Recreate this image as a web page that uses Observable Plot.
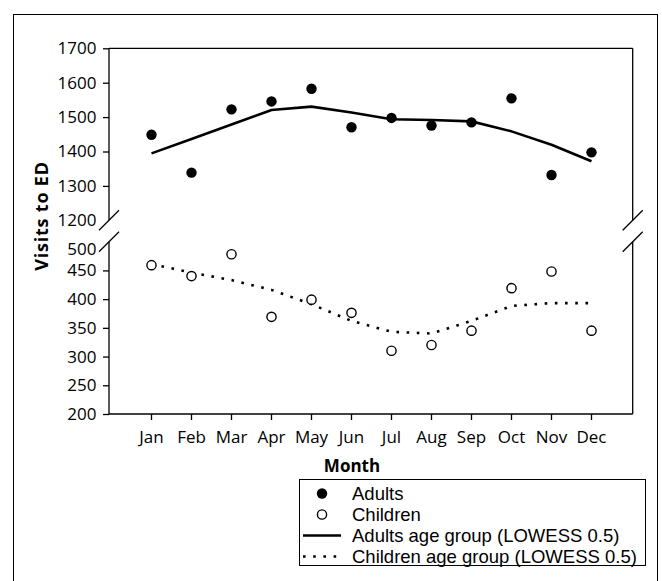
<!DOCTYPE html>
<html><head><meta charset="utf-8">
<script src="https://cdn.jsdelivr.net/npm/d3@7"></script>
<script src="https://cdn.jsdelivr.net/npm/@observablehq/plot@0.6"></script>
<style>
body{margin:0;background:#fff;}
#wrap{position:relative;width:662px;height:581px;overflow:hidden;background:#fff;font-family:"Open Sans",sans-serif;color:#000;}
#outer{position:absolute;left:13px;top:14px;width:645px;height:620px;border:1.3px solid #000;box-sizing:border-box;}
.layer{position:absolute;left:0;top:0;}
#ylab{position:absolute;left:41px;top:216px;transform:translate(-50%,-50%) rotate(-90deg);font-weight:bold;font-size:18px;letter-spacing:0.8px;white-space:nowrap;}
#xlab{position:absolute;left:352px;top:465px;transform:translate(-50%,-50%);font-weight:bold;font-size:17px;white-space:nowrap;}
#legend{position:absolute;left:299px;top:479px;width:347px;height:87px;border:1.3px solid #000;box-sizing:border-box;font-family:"Liberation Sans",Arial,sans-serif;font-size:18.5px;}
.row{position:absolute;left:0;height:21px;width:100%;}
.row svg{position:absolute;left:0;top:0;}
.row span{position:absolute;left:52px;top:50%;transform:translateY(-50%);white-space:nowrap;line-height:1;}
</style></head>
<body>
<div id="wrap">
  <div id="outer"></div>
  <div id="ylab">Visits to ED</div>
  <div id="xlab">Month</div>
  <div id="legend"></div>
</div>
<script>
const months = ["Jan","Feb","Mar","Apr","May","Jun","Jul","Aug","Sep","Oct","Nov","Dec"];
const adults = [1450, 1340, 1524, 1547, 1584, 1472, 1499, 1477, 1486, 1556, 1333, 1399];
const children = [460, 441, 479, 370, 400, 377, 311, 321, 346, 420, 449, 346];
const adultsLowess = [1396, 1438, 1480, 1522, 1532, 1515, 1495, 1493, 1489, 1460, 1421, 1373];
const childrenLowess = [462, 447, 434, 417, 392, 363, 344, 341, 363, 389, 394, 394];
const upperTicks = [1200, 1300, 1400, 1500, 1600, 1700];
const lowerTicks = [200, 250, 300, 350, 400, 450, 500];
const legendLabels = ["Adults", "Children", "Adults age group (LOWESS 0.5)", "Children age group (LOWESS 0.5)"];

const W = 662, H = 581;
const plotLeft = 109, plotRight = 632.7;
const upperTop = 48.3, upperBottom = 220.3;
const lowerTop = 241.7, lowerBottom = 414;
const fmt = d => String(d);

const adultRows = months.map((m, i) => ({month: m, value: adults[i], fit: adultsLowess[i]}));
const childRows = months.map((m, i) => ({month: m, value: children[i], fit: childrenLowess[i]}));

// panel frame lines + axis-break slashes, derived from the plot's dimensions and y scale
function decor(sides, breakValue) {
  return (index, scales, values, dims) => {
    const l = dims.marginLeft, r = dims.width - dims.marginRight;
    const t = dims.marginTop, b = dims.height - dims.marginBottom;
    const g = d3.create("svg:g").attr("stroke", "#000").attr("fill", "none").attr("stroke-width", 1.3);
    if (sides.includes("top")) g.append("line").attr("x1", l).attr("x2", r).attr("y1", t).attr("y2", t);
    if (sides.includes("bottom")) g.append("line").attr("x1", l).attr("x2", r).attr("y1", b).attr("y2", b);
    if (sides.includes("left")) g.append("line").attr("x1", l).attr("x2", l).attr("y1", t).attr("y2", b);
    if (sides.includes("right")) g.append("line").attr("x1", r).attr("x2", r).attr("y1", t).attr("y2", b);
    const yb = scales.y(breakValue);
    for (const cx of [l, r]) {
      g.append("line").attr("x1", cx - 10).attr("y1", yb + 10).attr("x2", cx + 10).attr("y2", yb - 10);
    }
    return g.node();
  };
}

const common = {
  width: W, height: H,
  marginLeft: plotLeft, marginRight: W - plotRight,
  style: {background: "transparent", fontFamily: "'Open Sans', sans-serif", fontSize: "17px", color: "#000", overflow: "visible"}
};

const upper = Plot.plot({
  ...common,
  marginTop: upperTop, marginBottom: H - upperBottom,
  x: {type: "point", domain: months, padding: 1, axis: null},
  y: {domain: [1200, 1700]},
  marks: [
    decor(["top", "left", "right"], 1200),
    Plot.axisY(upperTicks.filter(d => d !== 1200), {tickSize: 6, tickPadding: 7, tickFormat: fmt, label: null, stroke: "#000", strokeWidth: 1.3}),
    Plot.axisY([1200], {tickSize: 0, tickPadding: 13, tickFormat: fmt, label: null}),
    Plot.line(adultRows, {x: "month", y: "fit", stroke: "#000", strokeWidth: 2.6, strokeLinecap: "butt"}),
    Plot.dot(adultRows, {x: "month", y: "value", r: 5.2, fill: "#000", stroke: "none"})
  ]
});

const lower = Plot.plot({
  ...common,
  marginTop: lowerTop, marginBottom: H - lowerBottom,
  x: {type: "point", domain: months, padding: 1},
  y: {domain: [200, 500]},
  marks: [
    decor(["bottom", "left", "right"], 500),
    Plot.axisY(lowerTicks.filter(d => d !== 500), {tickSize: 6, tickPadding: 7, tickFormat: fmt, label: null, stroke: "#000", strokeWidth: 1.3}),
    Plot.axisY([500], {tickSize: 0, tickPadding: 13, dy: 7, tickFormat: fmt, label: null}),
    Plot.axisX({tickSize: 6, tickPadding: 10, label: null, stroke: "#000", strokeWidth: 1.3}),
    Plot.line(childRows, {x: "month", y: "fit", stroke: "#000", strokeWidth: 2.6, strokeDasharray: "2.6 7.6", strokeLinecap: "butt"}),
    Plot.dot(childRows, {x: "month", y: "value", r: 4.6, fill: "#fff", stroke: "#000", strokeWidth: 1.4})
  ]
});

upper.classList.add("layer");
lower.classList.add("layer");
const wrap = document.getElementById("wrap");
wrap.appendChild(upper);
wrap.appendChild(lower);

// legend
const legend = document.getElementById("legend");
const rowCenters = [13.5, 34.5, 55.5, 76.5];
legendLabels.forEach((label, i) => {
  const row = document.createElement("div");
  row.className = "row";
  row.style.top = (rowCenters[i] - 10.5) + "px";
  const svg = d3.create("svg").attr("width", 44).attr("height", 21);
  if (i === 0) svg.append("circle").attr("cx", 22).attr("cy", 10.5).attr("r", 5.2).attr("fill", "#000");
  if (i === 1) svg.append("circle").attr("cx", 22).attr("cy", 10.5).attr("r", 4.6).attr("fill", "#fff").attr("stroke", "#000").attr("stroke-width", 1.4);
  if (i === 2) svg.append("line").attr("x1", 3).attr("x2", 41).attr("y1", 10.5).attr("y2", 10.5).attr("stroke", "#000").attr("stroke-width", 2.6);
  if (i === 3) svg.append("line").attr("x1", 3).attr("x2", 41).attr("y1", 10.5).attr("y2", 10.5).attr("stroke", "#000").attr("stroke-width", 2.6).attr("stroke-dasharray", "2.6 7.6");
  row.appendChild(svg.node());
  const span = document.createElement("span");
  span.textContent = label;
  row.appendChild(span);
  legend.appendChild(row);
});
</script>
</body></html>
